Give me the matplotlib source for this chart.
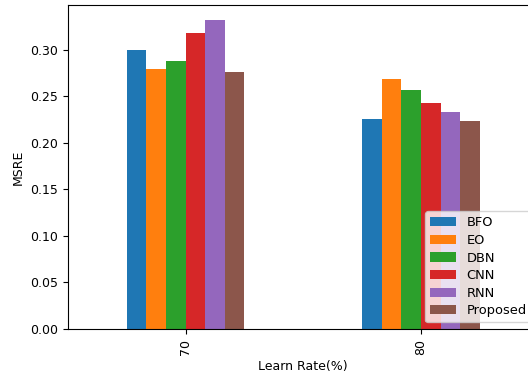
import pandas as pd
import matplotlib
matplotlib.use('Agg')
import matplotlib.pyplot as plt

learn_rates = ['70', '80']
bfo = [0.300, 0.2255]
eo = [0.279, 0.268]
dbn = [0.288, 0.257]
cnn = [0.318, 0.2425]
rnn = [0.3313, 0.2327]
proposed = [0.276, 0.223]

df = pd.DataFrame({'BFO': bfo, 'EO': eo, 'DBN': dbn, 'CNN': cnn,
                   'RNN': rnn, 'Proposed': proposed}, index=learn_rates)

plt.rcParams['font.size'] = 9

fig = plt.figure(figsize=(5.28, 3.74), dpi=100)
# axes run a little past the right edge of the canvas
ax = fig.add_axes([0.1288, 0.1203, 0.8912, 0.8663])
df.plot.bar(ax=ax, rot=90)
ax.set_xlabel('Learn Rate(%)')
ax.set_ylabel('MSRE')
ax.legend(loc='lower right', fontsize=9.4, labelspacing=0.35)

fig.savefig('out.png', dpi=100)
